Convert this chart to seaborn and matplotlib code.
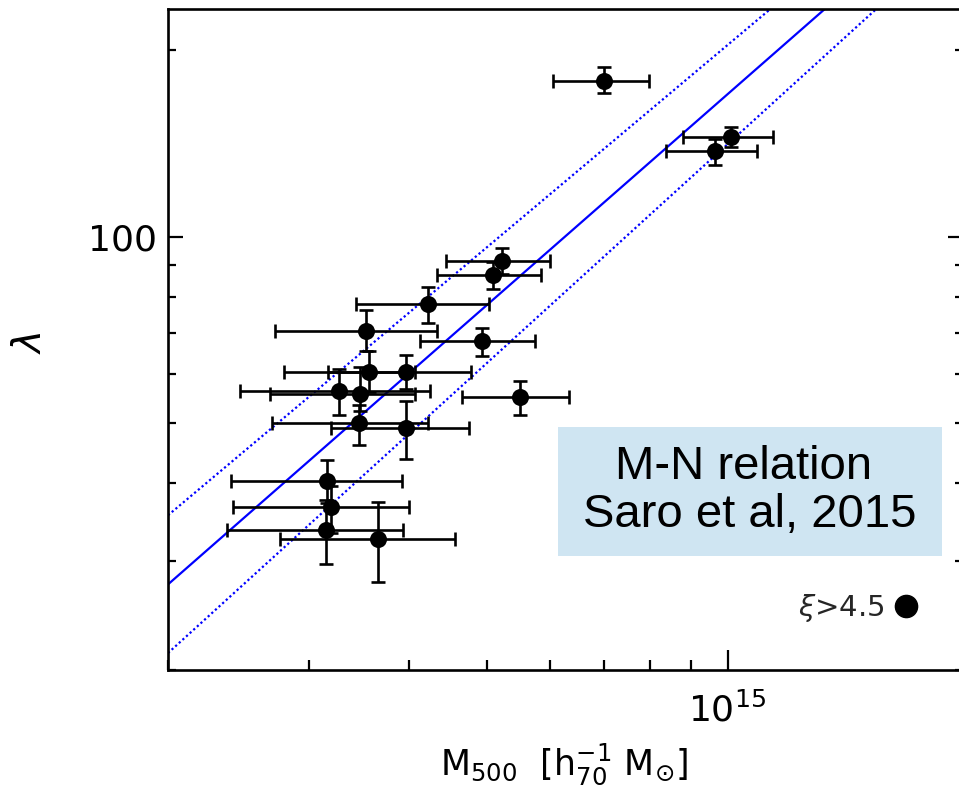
import numpy as np
import pandas as pd
import matplotlib
matplotlib.use("Agg")
import matplotlib.pyplot as plt
import seaborn as sns
from matplotlib.lines import Line2D
from matplotlib.patches import Rectangle
from matplotlib.ticker import FixedLocator, NullFormatter, FixedFormatter

# ---- data (masses in units of 1e14 h70^-1 Msun) ----
mass = [7.00, 10.10, 9.63, 5.23, 5.09, 4.23, 3.53, 4.94, 3.56, 3.97,
        3.27, 3.47, 5.50, 3.46, 3.97, 3.16, 3.20, 3.15, 3.66]
mass_lo = [6.05, 8.80, 8.37, 4.45, 4.33, 3.43, 2.72, 4.13, 2.79, 3.17,
           2.46, 2.68, 4.66, 2.70, 3.20, 2.40, 2.41, 2.37, 2.76]
mass_hi = [7.98, 11.39, 10.89, 6.00, 5.85, 5.03, 4.34, 5.74, 4.07, 4.78,
           4.25, 4.07, 6.33, 4.22, 4.75, 3.92, 4.00, 3.93, 4.56]
lam = [178.8, 144.8, 137.6, 91.4, 86.9, 77.8, 70.6, 67.9, 60.6, 60.6,
       56.3, 55.8, 55.1, 50.1, 49.2, 40.3, 36.7, 33.7, 32.6]
lam_lo = [170.6, 139.5, 130.6, 87.0, 82.3, 72.7, 65.5, 64.3, 56.1, 56.9,
          51.6, 52.4, 51.6, 46.1, 43.8, 37.2, 33.3, 29.7, 27.7]
lam_hi = [188.0, 150.3, 143.9, 96.1, 91.0, 83.0, 76.3, 71.3, 65.5, 64.4,
          61.2, 61.6, 58.6, 53.6, 54.4, 43.7, 39.6, 37.6, 37.4]

# M-N relation lines: lambda = A * (M / 3e14)^B
line_names = ["fit", "upper", "lower"]
line_A = [43.5, 55.2, 34.3]
line_B = [1.132, 1.086, 1.175]
line_styles = ["-", ":", ":"]

x_ticklabel = ["$10^{15}$"]
y_ticklabel = ["100"]

# ---- figure ----
sns.set_theme(style="white")
plt.rcParams["font.family"] = ["DejaVu Sans"]
plt.rcParams["mathtext.fontset"] = "dejavusans"

fig = plt.figure(figsize=(9.59, 7.87), dpi=100)
ax = fig.add_axes([0.1752, 0.1487, 0.8290, 0.8395])
ax.set_xscale("log")
ax.set_yscale("log")

df = pd.DataFrame({"M": np.array(mass) * 1e14, "lam": lam,
                   "Mlo": np.array(mass_lo) * 1e14, "Mhi": np.array(mass_hi) * 1e14,
                   "llo": lam_lo, "lhi": lam_hi})

# relation lines
mgrid = np.geomspace(2e14, 2e15, 60)
for name, A, B, ls in zip(line_names, line_A, line_B, line_styles):
    ldf = pd.DataFrame({"M": mgrid, "lam": A * (mgrid / 3e14) ** B})
    sns.lineplot(data=ldf, x="M", y="lam", ax=ax, color="#0000ff",
                 lw=1.6, linestyle=ls, zorder=2)
for l in ax.lines[1:]:
    l.set_dashes((1.0, 1.2))

ax.errorbar(df["M"], df["lam"],
            xerr=[df["M"] - df["Mlo"], df["Mhi"] - df["M"]],
            yerr=[df["lam"] - df["llo"], df["lhi"] - df["lam"]],
            fmt="none", ecolor="black", elinewidth=1.9, capsize=5,
            capthick=1.9, zorder=3)
sns.scatterplot(data=df, x="M", y="lam", ax=ax, color="black", s=150,
                edgecolor="black", linewidth=0, zorder=4, legend=False)

ax.set_xlim(2e14, 1.968e15)
ax.set_ylim(20, 233)

# ticks
ax.xaxis.set_major_locator(FixedLocator([1e15]))
ax.xaxis.set_major_formatter(FixedFormatter(x_ticklabel))
ax.xaxis.set_minor_locator(FixedLocator([k * 1e14 for k in range(2, 10)]))
ax.xaxis.set_minor_formatter(NullFormatter())
ax.yaxis.set_major_locator(FixedLocator([100]))
ax.yaxis.set_major_formatter(FixedFormatter(y_ticklabel))
ax.yaxis.set_minor_locator(FixedLocator([20, 30, 40, 50, 60, 70, 80, 90, 200]))
ax.yaxis.set_minor_formatter(NullFormatter())

ax.tick_params(axis="x", which="both", direction="in", bottom=True, top=False,
               width=1.6, colors="black", labelsize=26, pad=16)
ax.tick_params(axis="x", which="major", length=14.5)
ax.tick_params(axis="x", which="minor", length=7.2)
ax.tick_params(axis="y", which="both", direction="in", left=True, right=True,
               width=1.6, colors="black", labelsize=26, pad=8)
ax.tick_params(axis="y", which="major", length=11)
ax.tick_params(axis="y", which="minor", length=5.8)

for s in ax.spines.values():
    s.set_color("black")
    s.set_linewidth(1.9)

ax.set_xlabel(r"M$_{500}$  [h$_{70}^{-1}$ M$_{\odot}$]", fontsize=25, color="black")
ax.xaxis.set_label_coords(0.498, -0.108)
ax.set_ylabel(r"$\lambda$", fontsize=28, color="black")
ax.yaxis.set_label_coords(-0.150, 0.495)

# annotation box
ax.add_patch(Rectangle((0.4906, 0.1725), 0.483, 0.1953, transform=ax.transAxes,
                       facecolor="#cfe5f2", edgecolor="none", zorder=1))
ax.text(0.732, 0.271, "M-N relation \nSaro et al, 2015", transform=ax.transAxes,
        ha="center", va="center", multialignment="center", fontsize=34,
        family="Liberation Sans", linespacing=1.1, color="black", zorder=5)

# legend
handle = Line2D([], [], marker="o", color="black", ls="", markersize=16)
ax.legend(handles=[handle], labels=[r"$\xi$>4.5"], markerfirst=False,
          frameon=False, loc="center right", bbox_to_anchor=(0.947, 0.094),
          fontsize=21, handletextpad=0.25, handlelength=1.0,
          borderpad=0, borderaxespad=0)

fig.savefig("out.png", dpi=100)
